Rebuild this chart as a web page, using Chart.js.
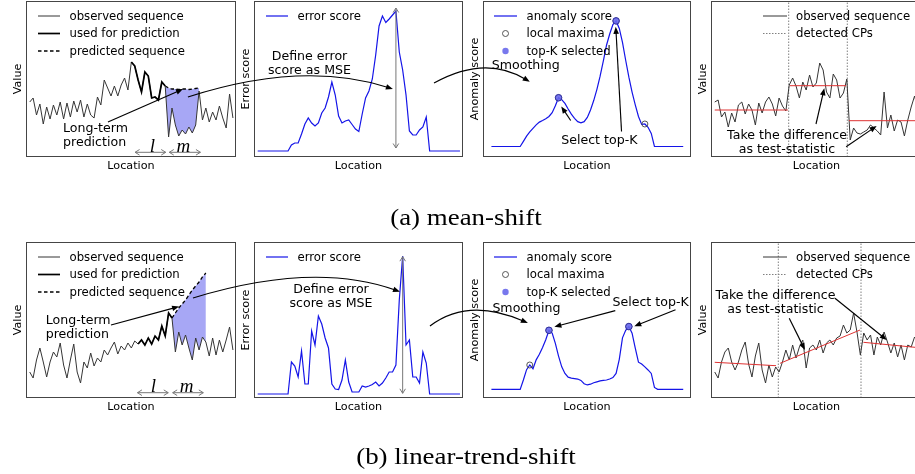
<!DOCTYPE html>
<html>
<head>
<meta charset="utf-8">
<script src="https://cdn.jsdelivr.net/npm/chart.js@4/dist/chart.umd.min.js"></script>
<style>
  html, body { margin: 0; padding: 0; background: #fff; }
  body { width: 915px; height: 474px; position: relative; overflow: hidden;
         font-family: "DejaVu Sans", sans-serif; color: #000; }
  .panel { position: absolute; z-index: 1; }
  .panel canvas { display: block; }
  #overlay { position: absolute; left: 0; top: 0; z-index: 2; pointer-events: none; }
  .txt { position: absolute; z-index: 3; white-space: pre; line-height: 1; }
</style>
</head>
<body>
<canvas id="overlay" width="915" height="474"></canvas>
<script>
// ---------------------------------------------------------------
// Shared location axis (one value per time step)
// ---------------------------------------------------------------
const LOCATIONS = [0,1,2,3,4,5,6,7,8,9,10,11,12,13,14,15,16,17,18,19,20,21,22,23,24,25,26,27,28,29,
  30,31,32,33,34,35,36,37,38,39,40,41,42,43,44,45,46,47,48,49,50,51,52,53,54,55,56,57,58,59,60];

// ---------------------------------------------------------------
// (a) mean-shift
// ---------------------------------------------------------------
const A_OBSERVED = [55,59,42,53,33,50,38,52,42,55, 38,54,40,56,45,57,40,53,42,39,
  60,52,77,69,61,71,61,72,79,67, 95,91,77,65,85,81,59,60,57,75,
  71,20,49,32,21,27,23,30,24,32, 66,37,49,35,45,37,51,39,29,63,39];
const A_USED_RANGE = [30, 40];          // window used for prediction (l)
const A_PRED_RANGE = [40, 50];          // predicted window (m)
const A_PREDICTED = [71,69,68,68,67.5,68,68,67.5,68,68.5,69];
const A_ERROR = [6,6,6,6,6,6,6,6,6,6, 12,14,14,23,33,39,34,31,34,44,
  49,60,75,62,41,34,36,37,32.5,28, 25.5,43,59,66,78,102,131,141,134.5,138,
  142,146,105,87,62,26,22,22,27,30,40, 6,6,6,6,6,6,6,6,6,6];
const A_ANOMALY = [6,6,6,6,6,6,6,6,6,6, 11.5,17,21.5,25.3,29,32,33.7,35.5,38,42,
  49.5,58,56,52,46,40.5,36,32.5,31.3,32.5, 37,45,55,67,81,97,114,126,136,140,
  132,117,98,80,64,50.5,38,29.5,30,26.5,20, 6,6,6,6,6,6,6,6,6,6];
const A_LOCAL_MAXIMA = [21, 39, 48];
const A_TOP_K = [21, 39];
const A_TEST_SEQ = [55,57,40,45,30,44,35,52,55,43, 53,47,32,54,44,55,60,53,41,59,
  51,46,72,79,71,59,75,67,82,70, 74,94,87,65,59,83,77,59,64,78,
  17,29,24,23,25,27,32,29,26,22, 65,29,42,26,37,35,21,37,50,61,47];
const A_CPS = [21.84, 39.14];
const A_SEGMENT_FITS = [[0, 47, 21.6, 47], [22.2, 71.3, 38.8, 71.3], [39.6, 36.3, 60.9, 36.3]];

// ---------------------------------------------------------------
// (b) linear-trend-shift
// ---------------------------------------------------------------
const B_OBSERVED = [26,20,38,50,36,21,36,46,41,55, 33,20,38,54,26,15,36,30,45,32,
  40,36,48,43,50,56,44,52,48,55, 50,57,54,58,53,60,54,62,58,72,
  62,85,80,46,66,53,63,50,38,60, 48,61,56,42,60,43,58,46,58,71,48];
const B_USED_RANGE = [32, 42];
const B_PRED_RANGE = [42, 52];
const B_PREDICTED = [80,85,90,94,98,103,108,112,116,121,125];
const B_ERROR = [4,4,4,4,4,4,4,4,4,4, 36,32,21,47,14,14,67,53,82,74,
  60,50,14,9,8.5,18,38,16,6,6, 6,12,11,12,13.5,16,12,15,20,26,
  26,33,98,142,53,58,21,21,15,46, 35,4,4,4,4,4,4,4,4,4,4];
const B_ANOMALY = [4,4,4,4,4,4,4,4,4,4, 14,25,30,26,35.5,41.5,48.7,57,67,64,
  53,39.5,28,21,17,16,15.5,15,13.5,10, 8.7,9.5,11,12,13,13.5,14,15,16.5,21,
  36,59,67,71,64,48,33,31,28,24.7,21, 6,4,4,4,4,4,4,4,4,4];
const B_LOCAL_MAXIMA = [12, 18, 43];
const B_TOP_K = [18, 43];
const B_TEST_SEQ = [26,20,36,46,50,36,28,36,48,56, 34,21,42,55,28,15,33,21,31,26,
  36,48,38,53,40,51,58,30,50,53, 48,58,45,55,58,53,60,62,73,65,
  68,85,66,43,65,58,63,43,61,53, 66,56,45,55,41,53,38,53,51,61,56];
const B_CPS = [18.77, 43.19];
const B_SEGMENT_FITS = [[0, 35.7, 18.1, 32.3], [19.3, 34.7, 42.9, 68], [43.9, 55.7, 60.9, 50.1]];

// ---------------------------------------------------------------
// Layout
// ---------------------------------------------------------------
const PANELS = {
  a1: { left: 26,  top: 1,   width: 210, height: 156 },
  a2: { left: 254, top: 1,   width: 209, height: 156 },
  a3: { left: 483, top: 1,   width: 208, height: 156 },
  a4: { left: 711, top: 1,   width: 210, height: 156 },
  b1: { left: 26,  top: 242, width: 210, height: 156 },
  b2: { left: 254, top: 242, width: 209, height: 156 },
  b3: { left: 483, top: 242, width: 208, height: 156 },
  b4: { left: 711, top: 242, width: 210, height: 156 }
};
const X_MIN = -1.1, X_MAX = 60.9, Y_MAX = 156;

const GRAY = '#353535';
const BLUE = 'rgb(20,20,232)';
const RED = 'rgb(222,50,50)';
const FILL = 'rgba(80,80,235,0.5)';
const CP_GRAY = '#808080';
const TOPK_FILL = 'rgba(105,105,235,0.9)';

const charts = {};

const pts = (xs, ys) => xs.map((x, i) => ({ x, y: ys[i] }));
const slice = (arr, r) => arr.slice(r[0], r[1] + 1);

function line(data, color, width, extra) {
  return Object.assign({ data, borderColor: color, borderWidth: width,
    pointRadius: 0, fill: false, tension: 0 }, extra || {});
}

const frame = {
  id: 'frame',
  afterDraw(chart) {
    const c = chart.ctx;
    c.save();
    c.strokeStyle = '#454545';
    c.lineWidth = 1;
    c.strokeRect(0.5, 0.5, chart.width - 1, chart.height - 1);
    c.restore();
  }
};

function makePanel(key, datasets) {
  const p = PANELS[key];
  const holder = document.createElement('div');
  holder.className = 'panel';
  Object.assign(holder.style, { left: p.left + 'px', top: p.top + 'px',
    width: p.width + 'px', height: p.height + 'px' });
  const cv = document.createElement('canvas');
  cv.width = p.width; cv.height = p.height;
  holder.appendChild(cv);
  document.body.appendChild(holder);
  charts[key] = new Chart(cv, {
    type: 'line',
    data: { datasets },
    options: {
      responsive: false, animation: false, events: [], devicePixelRatio: 1,
      layout: { padding: 0 },
      plugins: { legend: { display: false }, tooltip: { enabled: false } },
      scales: {
        x: { type: 'linear', min: X_MIN, max: X_MAX, display: false },
        y: { type: 'linear', min: 0, max: Y_MAX, display: false }
      }
    },
    plugins: [frame]
  });
}

// Stage 1: observed sequence, window used for prediction, forecast with its error area
function predictionPanel(key, obs, used, predRange, pred) {
  makePanel(key, [
    line(pts(slice(LOCATIONS, used), slice(obs, used)), '#000', 1.7),
    line(pts(LOCATIONS, obs), GRAY, 1),
    line(pts(slice(LOCATIONS, predRange), pred), '#000', 1.3,
      { borderDash: [3.5, 2.5], fill: '+1', backgroundColor: FILL }),
    line(pts(slice(LOCATIONS, predRange), slice(obs, predRange)), 'rgba(0,0,0,0)', 0)
  ]);
}

// Stage 2: error score
function errorPanel(key, err) {
  makePanel(key, [line(pts(LOCATIONS, err), BLUE, 1.2)]);
}

// Stage 3: smoothed anomaly score with local maxima and the selected top-K
function anomalyPanel(key, score, maxima, topK) {
  makePanel(key, [
    line(topK.map(i => ({ x: LOCATIONS[i], y: score[i] })), '#2b2b9c', 0,
      { showLine: false, pointRadius: 3.3, pointBackgroundColor: TOPK_FILL,
        pointBorderColor: '#2b2b9c', pointBorderWidth: 0.9 }),
    line(maxima.map(i => ({ x: LOCATIONS[i], y: score[i] })), '#444', 0,
      { showLine: false, pointRadius: 3, pointBackgroundColor: 'rgba(255,255,255,0)',
        pointBorderColor: '#444', pointBorderWidth: 0.9 }),
    line(pts(LOCATIONS, score), BLUE, 1.2)
  ]);
}

// Stage 4: detected change points with a fitted line per segment
function testPanel(key, seq, cps, fits) {
  const ds = fits.map(f => line([{ x: f[0], y: f[1] }, { x: f[2], y: f[3] }], RED, 1));
  ds.push(line(pts(LOCATIONS, seq), GRAY, 1));
  cps.forEach(c => ds.push(line([{ x: c, y: 0 }, { x: c, y: Y_MAX }], CP_GRAY, 1,
    { borderDash: [1.5, 1.5] })));
  makePanel(key, ds);
}

predictionPanel('a1', A_OBSERVED, A_USED_RANGE, A_PRED_RANGE, A_PREDICTED);
errorPanel('a2', A_ERROR);
anomalyPanel('a3', A_ANOMALY, A_LOCAL_MAXIMA, A_TOP_K);
testPanel('a4', A_TEST_SEQ, A_CPS, A_SEGMENT_FITS);
predictionPanel('b1', B_OBSERVED, B_USED_RANGE, B_PRED_RANGE, B_PREDICTED);
errorPanel('b2', B_ERROR);
anomalyPanel('b3', B_ANOMALY, B_LOCAL_MAXIMA, B_TOP_K);
testPanel('b4', B_TEST_SEQ, B_CPS, B_SEGMENT_FITS);

// ---------------------------------------------------------------
// Annotations (positions in each panel's data units)
// ---------------------------------------------------------------
function toPage(key, x, y) {
  const c = charts[key], p = PANELS[key];
  return [p.left + c.scales.x.getPixelForValue(x), p.top + c.scales.y.getPixelForValue(y)];
}
const P = ref => toPage(ref[0], ref[1], ref[2]);
const argmax = a => a.indexOf(Math.max(...a));

const POINTERS = [
  { from: ['a1', 23.1, 35],  to: ['a1', 45.25, 68] },
  { from: ['a3', 24.8, 33.7], to: ['a3', 21.85, 48.7] },
  { from: ['a3', 40.7, 22],  to: ['a3', 38.9, 133.7] },
  { from: ['a4', 29.9, 33],  to: ['a4', 32.35, 68.7] },
  { from: ['a4', 38.8, 10.3], to: ['a4', 47.8, 31] },
  { from: ['b1', 24.0, 73],  to: ['b1', 44.1, 91.5] },
  { from: ['b3', 38.75, 88], to: ['b3', 19.7, 70.7] },
  { from: ['b3', 57.6, 89],  to: ['b3', 44.7, 71.3] },
  { from: ['b4', 22.0, 79.7], to: ['b4', 26.65, 48] },
  { from: ['b4', 35.5, 99.7], to: ['b4', 50.8, 58] },
  // links between stages
  { from: ['a1', 46.7, 60],  via: ['a2', 13.4, 97],   to: ['a2', 40.1, 68] },
  { from: ['a2', 52.3, 74],  via: ['a3', -2.0, 104],  to: ['a3', 12.0, 75] },
  { from: ['b1', 48.2, 100], via: ['b2', 16.55, 137], to: ['b2', 42.2, 106.3] },
  { from: ['b2', 51.1, 72],  via: ['b3', -7.2, 102.6], to: ['b3', 11.4, 74.7] }
];

const aPeak = LOCATIONS[argmax(A_ERROR)], bPeak = LOCATIONS[argmax(B_ERROR)];
const SPANS = [
  { from: ['a1', 31.1, 4.7], to: ['a1', 40.15, 4.7] },
  { from: ['a1', 41.2, 4.7], to: ['a1', 50.4, 4.7] },
  { from: ['b1', 31.8, 5.3], to: ['b1', 40.9, 5.3] },
  { from: ['b1', 42.2, 5.3], to: ['b1', 51.25, 5.3] },
  { from: ['a2', aPeak, 9],  to: ['a2', aPeak, 149] },
  { from: ['b2', bPeak, 4.7], to: ['b2', bPeak, 141.3] }
];

const NOTES = [
  { at: ['a1', 9.82, 22],   align: 'left',   text: 'Long-term\nprediction' },
  { at: ['a2', 15.36, 94],  align: 'center', text: 'Define error\nscore as MSE' },
  { at: ['a3', 0.09, 93],   align: 'left',   text: 'Smoothing' },
  { at: ['a3', 33.77, 13],  align: 'center', text: 'Select top-K' },
  { at: ['a4', 21.34, 15],  align: 'center', text: 'Take the difference\nas test-statistic' },
  { at: ['b1', 4.72, 71],   align: 'left',   text: 'Long-term\nprediction' },
  { at: ['b2', 21.74, 102], align: 'center', text: 'Define error\nscore as MSE' },
  { at: ['b3', 0.3, 90.7],  align: 'left',   text: 'Smoothing' },
  { at: ['b3', 49.78, 97],  align: 'center', text: 'Select top-K' },
  { at: ['b4', 17.94, 95.7], align: 'center', text: 'Take the difference\nas test-statistic' }
];

const WINDOW_LABELS = [
  { at: ['a1', 36.19, 5.3], text: 'l' }, { at: ['a1', 45.34, 5.3], text: 'm' },
  { at: ['b1', 36.48, 6.3], text: 'l' }, { at: ['b1', 46.35, 6.3], text: 'm' }
];

const LEGENDS = {
  a1: { hx: [12, 34], tx: 43.5, items: [['observed sequence', 'obs'], ['used for prediction', 'used'], ['predicted sequence', 'pred']] },
  b1: { hx: [12, 34], tx: 43.5, items: [['observed sequence', 'obs'], ['used for prediction', 'used'], ['predicted sequence', 'pred']] },
  a2: { hx: [12, 34], tx: 43.5, items: [['error score', 'score']] },
  b2: { hx: [12, 34], tx: 43.5, items: [['error score', 'score']] },
  a3: { hx: [11, 34], tx: 43.5, items: [['anomaly score', 'score'], ['local maxima', 'lmax'], ['top-K selected', 'topk']] },
  b3: { hx: [11, 34], tx: 43.5, items: [['anomaly score', 'score'], ['local maxima', 'lmax'], ['top-K selected', 'topk']] },
  a4: { hx: [52, 76], tx: 85, items: [['observed sequence', 'obs'], ['detected CPs', 'cp']] },
  b4: { hx: [52, 76], tx: 85, items: [['observed sequence', 'obs'], ['detected CPs', 'cp']] }
};
const LEGEND_ROWS = [15, 32.5, 50];

const AXIS_TITLES = { a1: 'Value', a2: 'Error score', a3: 'Anomaly score', a4: 'Value',
                      b1: 'Value', b2: 'Error score', b3: 'Anomaly score', b4: 'Value' };

// ---------------------------------------------------------------
// Overlay drawing
// ---------------------------------------------------------------
const ctx = document.getElementById('overlay').getContext('2d');

function head(tip, ang, filled, len, half) {
  const bx = tip[0] - len * Math.cos(ang), by = tip[1] - len * Math.sin(ang);
  const nx = -Math.sin(ang) * half, ny = Math.cos(ang) * half;
  ctx.beginPath();
  ctx.moveTo(bx + nx, by + ny);
  ctx.lineTo(tip[0], tip[1]);
  ctx.lineTo(bx - nx, by - ny);
  if (filled) { ctx.closePath(); ctx.fill(); } else { ctx.stroke(); }
  return [bx, by];
}

ctx.lineCap = 'butt';
POINTERS.forEach(a => {
  const s = P(a.from), e = P(a.to);
  ctx.strokeStyle = '#000'; ctx.fillStyle = '#000'; ctx.lineWidth = 1.15;
  if (a.via) {
    const c = P(a.via);
    const ang = Math.atan2(e[1] - c[1], e[0] - c[0]);
    ctx.beginPath();
    ctx.moveTo(s[0], s[1]);
    ctx.quadraticCurveTo(c[0], c[1], e[0] - 5 * Math.cos(ang), e[1] - 5 * Math.sin(ang));
    ctx.stroke();
    head(e, ang, true, 7, 2.8);
  } else {
    const ang = Math.atan2(e[1] - s[1], e[0] - s[0]);
    const base = [e[0] - 6 * Math.cos(ang), e[1] - 6 * Math.sin(ang)];
    ctx.beginPath(); ctx.moveTo(s[0], s[1]); ctx.lineTo(base[0], base[1]); ctx.stroke();
    head(e, ang, true, 7, 2.8);
  }
});

SPANS.forEach(a => {
  const s = P(a.from), e = P(a.to);
  ctx.strokeStyle = '#777'; ctx.lineWidth = 1;
  ctx.beginPath(); ctx.moveTo(s[0], s[1]); ctx.lineTo(e[0], e[1]); ctx.stroke();
  const ang = Math.atan2(e[1] - s[1], e[0] - s[0]);
  head(e, ang, false, 4.5, 2.8);
  head(s, ang + Math.PI, false, 4.5, 2.8);
});

// legend handles
Object.keys(LEGENDS).forEach(key => {
  const p = PANELS[key], lg = LEGENDS[key];
  lg.items.forEach((it, r) => {
    const y = p.top + LEGEND_ROWS[r];
    const x0 = p.left + lg.hx[0], x1 = p.left + lg.hx[1], xm = (x0 + x1) / 2;
    ctx.save();
    ctx.setLineDash([]);
    const seg = (color, w, dash) => {
      ctx.strokeStyle = color; ctx.lineWidth = w; ctx.setLineDash(dash || []);
      ctx.beginPath(); ctx.moveTo(x0, y); ctx.lineTo(x1, y); ctx.stroke();
    };
    switch (it[1]) {
      case 'obs': seg(GRAY, 1); break;
      case 'used': seg('#000', 1.7); break;
      case 'pred': seg('#000', 1.3, [3.5, 2.5]); break;
      case 'score': seg(BLUE, 1.2); break;
      case 'cp': seg(CP_GRAY, 1, [1.5, 1.5]); break;
      case 'lmax':
        ctx.strokeStyle = '#444'; ctx.lineWidth = 0.9;
        ctx.beginPath(); ctx.arc(xm, y, 3, 0, Math.PI * 2); ctx.stroke(); break;
      case 'topk':
        ctx.fillStyle = TOPK_FILL;
        ctx.beginPath(); ctx.arc(xm, y, 3.2, 0, Math.PI * 2); ctx.fill(); break;
    }
    ctx.restore();
  });
});

// ---------------------------------------------------------------
// Text
// ---------------------------------------------------------------
function addText(str, x, y, o) {
  const d = document.createElement('div');
  d.className = 'txt';
  d.textContent = str;
  d.style.left = x + 'px';
  d.style.top = y + 'px';
  d.style.fontSize = o.size + 'px';
  if (o.family) d.style.fontFamily = o.family;
  if (o.style) d.style.fontStyle = o.style;
  if (o.lh) d.style.lineHeight = o.lh + 'px';
  d.style.textAlign = o.align || 'left';
  const tx = o.align === 'center' ? '-50%' : '0';
  const ty = o.baseline ? '0' : '-50%';
  let t = `translate(${tx},${ty})`;
  if (o.rotate) t += ` rotate(${o.rotate}deg)`;
  if (o.scaleX) t += ` scaleX(${o.scaleX})`;
  d.style.transform = t;
  document.body.appendChild(d);
}

Object.keys(LEGENDS).forEach(key => {
  const p = PANELS[key], lg = LEGENDS[key];
  lg.items.forEach((it, r) => addText(it[0], p.left + lg.tx, p.top + LEGEND_ROWS[r] + 0.5, { size: 11.7 }));
});

Object.keys(PANELS).forEach(key => {
  const p = PANELS[key];
  const bottomLabelY = p.top + p.height + 8.5;
  addText('Location', key.endsWith('4') ? p.left + 105.5 : p.left + p.width / 2, bottomLabelY,
    { size: 11.2, align: 'center' });
  addText(AXIS_TITLES[key], p.left - 8.4, p.top + p.height / 2, { size: 11.2, align: 'center', rotate: -90 });
});

NOTES.forEach(n => {
  const q = P(n.at);
  addText(n.text, q[0], q[1], { size: 12.6, align: n.align, lh: 13.6 });
});

WINDOW_LABELS.forEach(n => {
  const q = P(n.at);
  const size = 19;
  addText(n.text, q[0], q[1] - 0.84 * size, { size, align: 'center', baseline: true,
    family: '"Liberation Serif", serif', style: 'italic' });
});

const captionFont = '"Liberation Serif", serif';
addText('(a) mean-shift', 466, 216.5, { size: 24, align: 'center', family: captionFont, scaleX: 1.12 });
addText('(b) linear-trend-shift', 466, 456, { size: 24, align: 'center', family: captionFont, scaleX: 1.12 });
</script>
</body>
</html>
